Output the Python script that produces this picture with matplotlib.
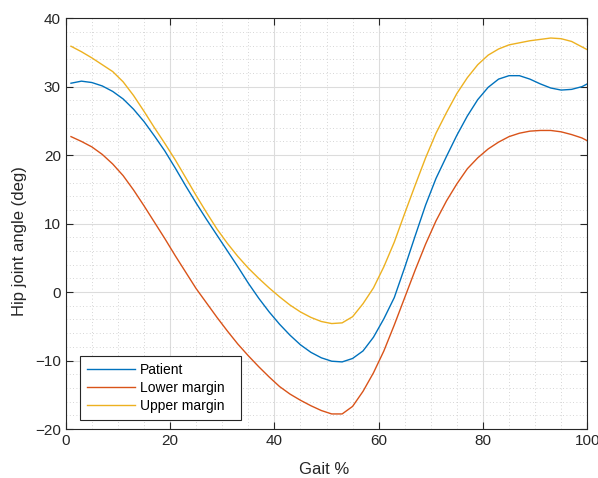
import numpy as np
import matplotlib.pyplot as plt
from matplotlib.ticker import MultipleLocator

plt.rcParams['font.family'] = ['Liberation Sans', 'DejaVu Sans']

# Gait cycle samples (%)
gait = [1, 3, 5, 7, 9, 11, 13, 15, 17, 19, 21, 23, 25, 27, 29, 31, 33, 35, 37, 39,
        41, 43, 45, 47, 49, 51, 53, 55, 57, 59, 61, 63, 65, 67, 69, 71, 73, 75, 77, 79,
        81, 83, 85, 87, 89, 91, 93, 95, 97, 99, 100]

# Hip joint angles (deg)
patient = [30.5, 30.8, 30.6, 30.1, 29.3, 28.2, 26.7, 24.9, 22.8, 20.6, 18.1, 15.5, 13.0,
           10.6, 8.3, 6.0, 3.7, 1.3, -0.9, -2.9, -4.7, -6.3, -7.7, -8.8, -9.6, -10.1, -10.2,
           -9.7, -8.6, -6.6, -3.9, -0.8, 3.6, 8.2, 12.7, 16.6, 19.8, 22.9, 25.7, 28.1, 29.9,
           31.1, 31.6, 31.6, 31.1, 30.4, 29.8, 29.5, 29.6, 30.0, 30.4]
lower = [22.7, 22.0, 21.2, 20.1, 18.7, 17.0, 14.9, 12.6, 10.2, 7.8, 5.3, 2.9, 0.5,
         -1.6, -3.7, -5.7, -7.6, -9.3, -10.9, -12.4, -13.8, -14.9, -15.8, -16.6, -17.3,
         -17.8, -17.8, -16.7, -14.5, -11.8, -8.6, -4.8, -0.8, 3.2, 7.0, 10.4, 13.3, 15.8,
         18.0, 19.6, 20.9, 21.9, 22.7, 23.2, 23.5, 23.6, 23.6, 23.4, 23.0, 22.5, 22.1]
upper = [35.9, 35.1, 34.2, 33.2, 32.2, 30.7, 28.7, 26.4, 24.0, 21.7, 19.3, 16.7, 14.1,
         11.6, 9.2, 7.1, 5.2, 3.5, 2.0, 0.6, -0.7, -1.9, -2.9, -3.7, -4.3, -4.6, -4.5,
         -3.6, -1.7, 0.6, 3.7, 7.3, 11.5, 15.6, 19.6, 23.2, 26.2, 29.0, 31.3, 33.2, 34.6,
         35.5, 36.1, 36.4, 36.7, 36.9, 37.1, 37.0, 36.6, 35.8, 35.4]

fig = plt.figure(figsize=(5.98, 4.78), dpi=100)
ax = fig.add_axes([0.110, 0.1025, 0.872, 0.8595])

ax.plot(gait, patient, color='#0072BD', lw=1, label='Patient')
ax.plot(gait, lower, color='#D95319', lw=1, label='Lower margin')
ax.plot(gait, upper, color='#EDB120', lw=1, label='Upper margin')

ax.set_xlim(0, 100)
ax.set_ylim(-20, 40)
ax.xaxis.set_major_locator(MultipleLocator(20))
ax.yaxis.set_major_locator(MultipleLocator(10))
ax.xaxis.set_minor_locator(MultipleLocator(5))
ax.yaxis.set_minor_locator(MultipleLocator(2))

ax.grid(which='major', color='#dcdcdc', lw=0.8, ls='-')
ax.grid(which='minor', color='#c8c8c8', lw=0.6, ls=(0, (1, 3)))
ax.set_axisbelow(True)

ax.tick_params(which='both', direction='in', top=True, right=True, colors='#262626',
               labelsize=11)
ax.tick_params(which='major', length=5)
ax.tick_params(which='minor', length=0)
for s in ax.spines.values():
    s.set_color('#262626')
    s.set_linewidth(0.8)

ax.set_xlabel('Gait %', fontsize=12, color='#262626')
ax.set_ylabel('Hip joint angle (deg)', fontsize=12, color='#262626')
ax.xaxis.set_label_coords(0.496, -0.08)
ax.yaxis.set_label_coords(-0.075, 0.457)

leg = ax.legend(loc='lower left', bbox_to_anchor=(0.027, 0.022, 0.309, 0.15),
                mode='expand', fontsize=10,
                fancybox=False, edgecolor='#262626', framealpha=1,
                handlelength=3.45, borderpad=0.5, labelspacing=0.3,
                handletextpad=0.35, borderaxespad=0)
leg.get_frame().set_linewidth(0.8)

fig.savefig('out.png', dpi=100)
